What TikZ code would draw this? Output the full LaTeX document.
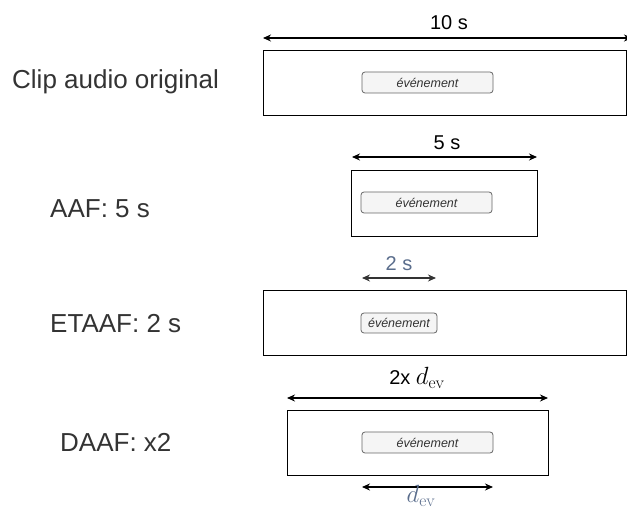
\documentclass[tikz,border=0pt]{standalone}
\usepackage[no-math]{fontspec}
\setmainfont{Liberation Sans}
\usetikzlibrary{arrows.meta}
\definecolor{lbl}{HTML}{333333}
\definecolor{bluegray}{HTML}{5A6D8C}
\definecolor{evfill}{HTML}{F5F5F5}
\definecolor{evdraw}{HTML}{666666}
\tikzset{
  clipbox/.style={draw=black, line width=0.9pt, fill=white, inner sep=0pt},
  evbox/.style={draw=evdraw, fill=evfill, rounded corners=3pt, line width=0.8pt, inner sep=0pt,
    font=\fontsize{12.5}{14}\selectfont\itshape, text=lbl},
  rowlabel/.style={font=\fontsize{26}{30}\selectfont, text=lbl, anchor=base west, inner sep=0pt},
  dimlabel/.style={font=\fontsize{20}{24}\selectfont, text=black, inner sep=0pt},
  mathlabel/.style={font=\fontsize{23}{26}\selectfont, inner sep=0pt},
  dimarrow/.style={line width=1.1pt, {Stealth[length=8pt,width=7pt]}-{Stealth[length=8pt,width=7pt]}},
}
\begin{document}
\begin{tikzpicture}[x=1pt,y=-1pt]
\useasboundingbox (0,0) rectangle (627,510);
% row 1
\node[clipbox, minimum width=363pt, minimum height=65pt] (b1) at (444.5,82.5) {};
\node[evbox, minimum width=131pt, minimum height=21pt] (e1) at (427.5,82.5) {événement};
\node[rowlabel] (l1) at (12,89) {Clip audio original};
\coordinate (a1s) at (263,38);
\coordinate (a1e) at (632,38);
\draw[dimarrow] (a1s) -- (a1e);
\node[dimlabel] (t1) at (449,23) {10 s};
% row 2
\node[clipbox, minimum width=186pt, minimum height=66pt] (b2) at (444.5,203) {};
\node[evbox, minimum width=131pt, minimum height=21pt] (e2) at (426.5,202.5) {événement};
\node[rowlabel] (l2) at (50,218) {AAF: 5 s};
\coordinate (a2s) at (352,157);
\coordinate (a2e) at (537,157);
\draw[dimarrow] (a2s) -- (a2e);
\node[dimlabel] (t2) at (447,143) {5 s};
% row 3
\node[clipbox, minimum width=363pt, minimum height=65pt] (b3) at (444.5,322.5) {};
\node[evbox, minimum width=76pt, minimum height=20pt] (e3) at (399,323) {événement};
\node[rowlabel] (l3) at (50,333) {ETAAF: 2 s};
\coordinate (a3s) at (362,278);
\coordinate (a3e) at (436,278);
\draw[dimarrow, draw=lbl] (a3s) -- (a3e);
\node[dimlabel, text=bluegray] (t3) at (399,264) {2 s};
% row 4
\node[clipbox, minimum width=261pt, minimum height=65pt] (b4) at (417.5,442.5) {};
\node[evbox, minimum width=131pt, minimum height=21pt] (e4) at (427.5,442.5) {événement};
\node[rowlabel] (l4) at (60,452) {DAAF: x2};
\coordinate (a4s) at (287,398);
\coordinate (a4e) at (548,398);
\draw[dimarrow] (a4s) -- (a4e);
\node[dimlabel, anchor=base] (t4) at (417,385) {2x {\fontsize{23}{26}\selectfont$d_{\mathrm{ev}}$}};
\coordinate (a5s) at (362,487);
\coordinate (a5e) at (493,487);
\draw[dimarrow] (a5s) -- (a5e);
\node[mathlabel, text=bluegray, anchor=base] (t5) at (421,502.5) {$d_{\mathrm{ev}}$};
\end{tikzpicture}
\end{document}
